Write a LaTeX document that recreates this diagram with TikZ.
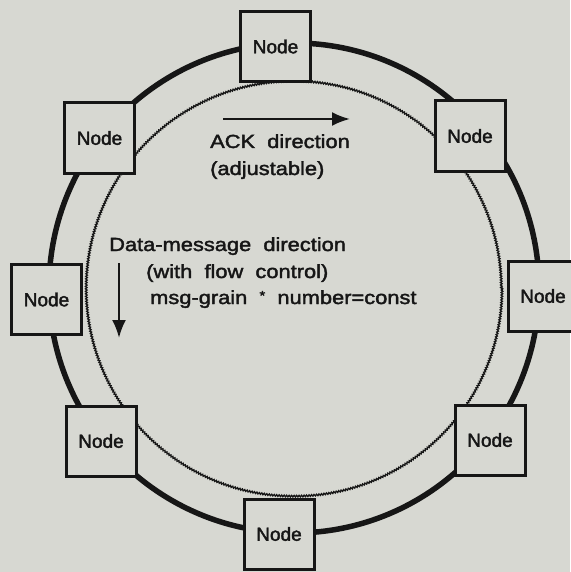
\documentclass[tikz,border=0pt]{standalone}
\usepackage{fontspec}
\setmainfont{Liberation Sans}[FakeBold=2]
\newfontfamily\widefont{Liberation Sans}[FakeStretch=1.15,FakeBold=2]
\usetikzlibrary{decorations.pathmorphing,arrows.meta}

\definecolor{paper}{RGB}{215,216,210}
\definecolor{ink}{RGB}{22,22,22}

\tikzset{
    ringnode/.style={
        draw=ink,
        line width=3pt,
        fill=paper,
        minimum size=70pt,
        inner sep=0pt,
        text=ink,
        font=\fontsize{19}{22}\selectfont
    },
    notetext/.style={
        inner sep=0pt,
        text=ink,
        font=\widefont\fontsize{19}{27}\selectfont
    },
    dirarrow/.style={
        draw=ink,
        line width=2.4pt,
        -{Latex[length=18pt,width=14pt]}
    }
}

\begin{document}
\begin{tikzpicture}[x=1pt,y=-1pt]
    % background / page size
    \fill[paper] (0,0) rectangle (570,572);
    \useasboundingbox (0,0) rectangle (570,572);

    % the ring
    \coordinate (centre) at (294,288);
    \draw[ink, line width=5.5pt] (centre) circle (245);
    \draw[ink, line width=1.3pt,
          decorate, decoration={snake, amplitude=0.8pt, segment length=2.5pt}]
        (centre) circle (208);

    % nodes on the ring
    \foreach \name/\x/\y in {top/275.5/46.5, topleft/99.5/138, topright/470/136,
                            left/46.5/299.5, right/543/296,
                            botleft/101/441, botright/490/440, bottom/279/534}
        \node[ringnode] (\name) at (\x,\y) {Node};

    % ACK direction
    \coordinate (ackstart) at (223,119);
    \coordinate (ackend) at (350,119);
    \draw[dirarrow] (ackstart) -- (ackend);
    \node[notetext, anchor=base west] (ack) at (210,148) {ACK\ \ direction};
    \node[notetext, anchor=base west] (adjust) at (210,175) {(adjustable)};

    % data-message direction
    \coordinate (datastart) at (119,263);
    \coordinate (dataend) at (119,338);
    \draw[dirarrow] (datastart) -- (dataend);
    \node[notetext, anchor=base west] (data) at (109,251) {Data-message\ \ direction};
    \node[notetext, anchor=base west] (flow) at (146,278) {(with\ \ flow\ \ control)};
    \node[notetext, anchor=base west] (grain) at (150,304) {msg-grain\ \ \raisebox{4pt}{\fontsize{13}{13}\selectfont*}\ \ number=const};
\end{tikzpicture}
\end{document}
